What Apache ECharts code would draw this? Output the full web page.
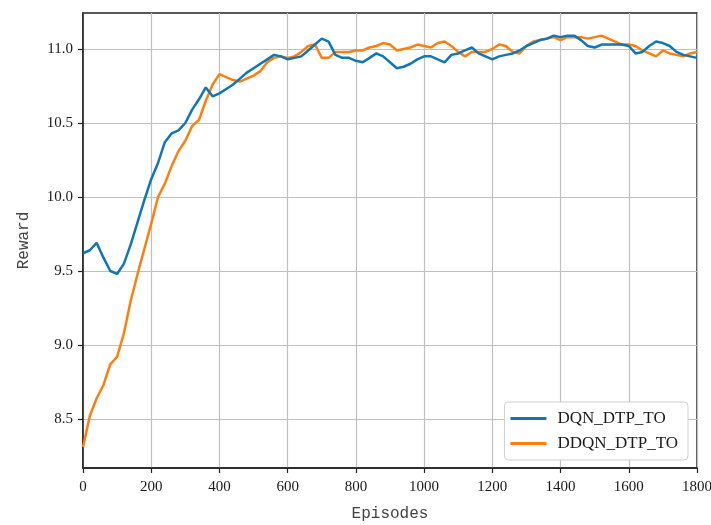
<!DOCTYPE html>
<html>
<head>
<meta charset="utf-8">
<script src="https://cdn.jsdelivr.net/npm/echarts@6/dist/echarts.min.js"></script>
<style>html,body{margin:0;padding:0;background:#fff;}#c{width:711px;height:525px;}</style>
</head>
<body>
<div id="c"></div>
<script>
const episodes = [];
for (let e = 0; e <= 1800; e += 20) episodes.push(e);

const dqn = [
9.62,9.64,9.69,9.59,9.50,9.48,9.55,9.68,9.83,9.98,
10.12,10.23,10.37,10.43,10.45,10.50,10.59,10.66,10.74,10.68,
10.70,10.73,10.76,10.80,10.84,10.87,10.90,10.93,10.96,10.95,
10.93,10.94,10.95,10.99,11.03,11.07,11.05,10.96,10.94,10.94,
10.92,10.91,10.94,10.97,10.95,10.91,10.87,10.88,10.90,10.93,
10.95,10.95,10.93,10.91,10.96,10.97,10.99,11.01,10.97,10.95,
10.93,10.95,10.96,10.97,10.99,11.02,11.04,11.06,11.07,11.09,
11.08,11.09,11.09,11.06,11.02,11.01,11.03,11.03,11.03,11.03,
11.02,10.97,10.98,11.02,11.05,11.04,11.02,10.98,10.96,10.95,
10.94];

const ddqn = [
8.31,8.52,8.64,8.73,8.87,8.92,9.08,9.30,9.48,9.65,
9.82,10.00,10.09,10.21,10.31,10.38,10.48,10.52,10.65,10.76,
10.83,10.81,10.79,10.78,10.80,10.82,10.85,10.91,10.94,10.95,
10.94,10.95,10.98,11.02,11.03,10.94,10.94,10.98,10.98,10.98,
10.99,10.99,11.01,11.02,11.04,11.03,10.99,11.00,11.01,11.03,
11.02,11.01,11.04,11.05,11.02,10.98,10.95,10.98,10.98,10.98,
11.00,11.03,11.02,10.98,10.97,11.02,11.05,11.06,11.07,11.08,
11.06,11.08,11.08,11.08,11.07,11.08,11.09,11.07,11.05,11.03,
11.03,11.02,10.99,10.97,10.95,10.99,10.97,10.96,10.95,10.97,
10.98];

const seriesNames = ['DQN_DTP_TO', 'DDQN_DTP_TO'];
const xTicks = [0,200,400,600,800,1000,1200,1400,1600,1800];
const yTicks = [8.5,9.0,9.5,10.0,10.5,11.0];

const chart = echarts.init(document.getElementById('c'), null, {renderer: 'canvas'});
const tickFont = {fontFamily: 'Liberation Serif', fontSize: 15, color: '#1a1a1a'};
chart.setOption({
  animation: false,
  backgroundColor: '#fff',
  grid: {left: 83, right: 14, top: 13, bottom: 57, outerBoundsMode: 'none', containLabel: false,
         show: true, borderColor: '#222', borderWidth: 1.5, backgroundColor: 'transparent'},
  legend: {
    data: seriesNames, orient: 'vertical', right: 23, bottom: 65,
    backgroundColor: '#fff', borderColor: '#cfcfcf', borderWidth: 1, borderRadius: 4,
    padding: [8, 10, 8, 6], itemGap: 8, itemWidth: 36, itemHeight: 3, icon: 'rect',
    textStyle: {fontFamily: 'Liberation Serif', fontSize: 17, color: '#1a1a1a', padding: [0,0,0,6]}
  },
  xAxis: {
    type: 'value', min: 0, max: 1800,
    name: 'Episodes', nameLocation: 'middle', nameGap: 38,
    nameTextStyle: {fontFamily: 'Liberation Mono', fontSize: 16, color: '#444'},
    axisLine: {show: true, onZero: false, lineStyle: {color: '#222', width: 1.5}},
    axisTick: {show: true, inside: false, length: 5, customValues: xTicks, lineStyle: {color: '#222', width: 1.2}},
    axisLabel: Object.assign({margin: 12, customValues: xTicks, formatter: v => String(v)}, tickFont),
    splitLine: {show: true, lineStyle: {color: '#c0c0c0', width: 1.2}}
  },
  yAxis: {
    type: 'value', min: 8.169, max: 11.243,
    name: 'Reward', nameLocation: 'middle', nameGap: 51, nameRotate: 90,
    nameTextStyle: {fontFamily: 'Liberation Mono', fontSize: 16, color: '#444'},
    axisLine: {show: true, onZero: false, lineStyle: {color: '#222', width: 1.5}},
    axisTick: {show: true, inside: false, length: 5, customValues: yTicks, lineStyle: {color: '#222', width: 1.2}},
    axisLabel: Object.assign({margin: 10, customValues: yTicks, formatter: v => v.toFixed(1)}, tickFont),
    splitLine: {show: true, lineStyle: {color: '#c0c0c0', width: 1.2}}
  },
  series: [
    {name: seriesNames[0], type: 'line', data: episodes.map((e, i) => [e, dqn[i]]), showSymbol: false, symbol: 'none',
     lineStyle: {color: '#1176b6', width: 2.5}, itemStyle: {color: '#1176b6'}, z: 3},
    {name: seriesNames[1], type: 'line', data: episodes.map((e, i) => [e, ddqn[i]]), showSymbol: false, symbol: 'none',
     lineStyle: {color: '#ff7f0e', width: 2.5}, itemStyle: {color: '#ff7f0e'}, z: 2}
  ]
});
</script>
</body>
</html>
